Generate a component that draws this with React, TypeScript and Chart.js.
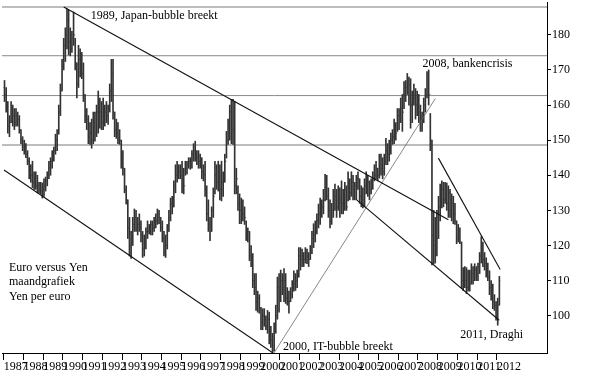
import React, { useEffect, useRef } from 'react';
import { Chart, registerables } from 'chart.js';

Chart.register(...registerables);

// ---- Data -------------------------------------------------------------
const START_YEAR = 1987;
const yearTicks = [1987, 1988, 1989, 1990, 1991, 1992, 1993, 1994, 1995, 1996, 1997, 1998, 1999, 2000, 2001, 2002, 2003, 2004, 2005, 2006, 2007, 2008, 2009, 2010, 2011, 2012];
const valueTicks = [100, 110, 120, 130, 140, 150, 160, 170, 180];

// monthly highs (Jan 1987 .. Feb 2012)
const highs = [
  167, 165, 161, 157, 161, 160, 159, 159, 158, 157, 153, 151,
  150, 149, 147, 145, 143, 144, 141, 141, 140, 138, 138, 137.8,
  139, 139.5, 141, 144, 145, 147, 148, 151.7, 153, 160, 166, 173,
  179, 182, 187.4, 187, 182, 181, 186.5, 179, 172, 177, 176, 175,
  172, 163, 159, 157, 155, 156, 158, 158, 160, 164, 162, 161,
  162, 160, 161, 160, 166, 173, 173, 158, 156, 155, 153, 150,
  147, 142, 137, 133, 128, 124, 128, 130.4, 130, 128, 129, 127,
  124, 123, 125, 127, 126, 127, 127, 128, 129, 130.4, 130, 128,
  127, 124, 123, 126, 130, 133.5, 134, 138.4, 143, 144, 143, 143,
  144, 142, 144, 144, 145, 145, 147, 149, 149.7, 147, 147, 146,
  145, 143, 144, 137, 133, 128, 131, 136.4, 144, 143, 144, 143,
  144, 141, 146, 152.5, 156, 160, 161.6, 161.6, 161, 142, 137, 134.7,
  133.5, 133, 131, 127, 125, 124, 120, 117.7, 112, 112, 107, 106,
  102.4, 102, 102, 100, 101.5, 101, 97, 95, 98, 103, 111, 112,
  113, 112, 113.4, 112, 108, 107, 108, 110, 112.8, 112, 113, 119.4,
  119.4, 119, 118, 119.4, 119, 118, 120, 124, 126.2, 127, 129, 131.8,
  133.5, 133, 136, 140.3, 140, 136.4, 133, 132, 136, 137.5, 136, 137,
  136.4, 138.4, 136, 138, 137, 141, 139, 141, 140, 138, 140, 141,
  139, 137, 136.4, 139, 141, 140, 138.4, 139, 141, 143, 144, 142,
  146, 146, 145, 146, 150.5, 149, 150, 152, 153, 156, 155, 159,
  159, 162, 163, 166.7, 167, 169, 168, 167.5, 164, 166, 164.7, 164,
  163, 160, 158, 162, 164.7, 169.5, 170, 157.6, 150, 130, 128, 130,
  134, 137.5, 138.4, 138, 138, 137.8, 137, 136, 134.7, 134, 132, 127,
  126, 125, 121, 113.7, 114, 113.7, 113, 113, 114.8, 114, 114.8, 114,
  115, 118, 122.5, 121, 118, 116.5, 115, 112.8, 110, 109, 106, 104,
  105, 111.2,
];

// monthly lows
const lows = [
  161, 158, 152, 151, 155, 154, 153, 154, 154, 152, 149, 147,
  146, 145, 143, 139, 138, 136.5, 136, 136, 135, 135, 134.7, 133.5,
  134, 135.5, 137, 139, 140, 142, 144, 146, 147, 151.7, 157, 164,
  170, 172.4, 176, 174.3, 174, 175, 177, 170, 162, 165, 168, 167.5,
  161, 155, 153, 149, 148.8, 147.7, 149, 149.7, 151, 152, 153.4, 153,
  153, 154, 155, 154.5, 158, 161, 156, 151, 150.5, 149, 148.8, 142,
  140, 135, 131.8, 122, 117, 116.3, 120, 124, 124, 123, 124, 121,
  116.6, 117, 119, 122, 123.3, 123, 123, 124, 125, 126, 126.2, 124,
  121, 117, 116.6, 119, 124, 127, 129, 131, 135, 138, 139, 139,
  135, 134.7, 140, 140.3, 142, 141.7, 142, 144, 144, 143, 142, 142,
  139, 138.4, 134, 127, 124, 121.4, 124, 128, 134.7, 136, 135.5, 133,
  132.7, 134, 138, 144.9, 148.8, 150, 149, 148.8, 134.7, 134.7, 130, 126.2,
  126.2, 127, 126, 121.4, 121, 115.7, 114, 108, 106, 101.5, 101, 100.7,
  96, 96, 97, 96, 95, 92, 91, 89.4, 90, 95, 99, 101,
  104, 106, 104, 103.5, 103, 100.7, 104, 105, 107, 107.2, 108, 111,
  113, 114, 114, 115, 114.8, 114, 116, 117.7, 119.4, 121, 123.3, 125,
  126, 128, 129, 132.7, 133, 128, 125, 126, 128, 130, 128, 130,
  128, 129, 129, 130, 130, 132.7, 133, 134, 133, 133, 133, 136,
  132, 131, 130.7, 131, 134.7, 134, 133, 134.7, 136, 138.4, 139, 138.4,
  139.2, 140, 139, 140, 143, 143, 144, 146, 148.8, 149, 150, 152.5,
  153, 155, 152.5, 159, 161, 163, 160, 153.4, 155, 160, 156, 157,
  155, 152.5, 152.5, 155, 158, 162, 160, 147, 114.5, 114.8, 115, 117,
  122, 127, 130.7, 131, 132, 130, 128, 128, 127, 126.2, 126, 120.5,
  121, 120.5, 108, 107.2, 108, 106.3, 107, 107, 109, 109, 110, 110,
  110, 112, 115, 114, 113, 111, 110, 106, 104.4, 102, 101.5, 98.7,
  97.3, 103,
];

// monthly closes
const closes = [
  163, 160, 154, 155, 159, 157, 155, 157, 156, 153, 150, 148,
  147, 146, 144, 141, 140, 138, 139, 137, 137, 136, 135.5, 136,
  137, 138.5, 140, 142, 144, 145, 147, 150, 152, 158, 164, 171,
  177, 180, 184, 178, 176, 179, 180, 172, 166, 173, 170, 169,
  163, 157, 156, 151, 152, 150, 155, 152, 158, 160, 158, 155,
  157, 158, 157, 159, 164, 169, 158, 153, 152, 150, 150, 144,
  142, 136, 133, 125, 120, 122, 126, 128, 125, 126, 125, 123,
  119, 121, 124, 124, 125, 126, 125, 127, 127, 129, 128, 125,
  122, 118, 120, 124, 128, 132, 131, 137, 140, 141, 141, 140,
  139, 137, 142, 143, 144, 143, 146, 147, 146, 145, 144, 143,
  141, 140, 136, 129, 126, 124, 130, 134, 140, 138, 140, 136,
  138, 139, 144, 150, 152, 158, 153, 158, 137, 139, 132, 130,
  131, 129, 128, 123, 124, 117, 116, 110, 108, 104, 105, 102,
  98, 100, 99, 97, 99, 94, 93, 90, 96, 100, 108, 105,
  110, 108, 110, 105, 104, 104, 106, 108, 109, 110, 111, 117,
  116, 117, 116, 118, 117, 116, 118, 122, 123, 124, 127, 129,
  130, 131, 133, 138, 134, 130, 127, 130, 133, 134, 131, 134,
  133, 132, 134, 136, 131, 137, 135, 138, 136, 137, 139, 139,
  134, 133, 132, 137, 136, 138, 136, 137, 139, 140, 142, 140,
  143, 142, 141, 144, 147, 146, 148, 150, 151, 154, 152, 157,
  157, 159, 158, 163, 165, 166, 162, 160, 163, 162, 160, 163,
  158, 156, 155, 160, 163, 168, 163, 150, 123, 120, 125, 122,
  131, 134, 136, 133, 137, 132, 135, 130, 132, 129, 127, 122,
  124, 121, 110, 112, 110, 108, 111, 109, 112, 110, 113, 112,
  114, 117, 119, 116, 115, 113, 111, 108, 107, 104, 103, 100,
  103, 110,
];
const FIRST_OPEN = 165;

// horizontal support / resistance levels
const levels = [187.9, 174.05, 162.7, 148.6];

// trend lines: [yearFrom, valueFrom, yearTo, valueTo]
const trendLines = [
  [1990.045, 187.93, 2009.54, 127.32],
  [1987.015, 141.48, 2000.65, 89.38],
  [2004.894, 132.99, 2012.116, 98.72],
  [2009.035, 144.88, 2012.167, 113.16],
];
const thinTrendLines = [
  [2000.70, 89.38, 2008.88, 161.87],
];

// annotations: text anchored at [year, value] (left / baseline)
const noteTexts = ['1989, Japan-bubble breekt', '2008, bankencrisis', 'Euro versus Yen', 'maandgrafiek', 'Yen per euro', '2000, IT-bubble breekt', '2011, Draghi'];
const noteYears = [1991.41, 2008.227, 1987.268, 1987.268, 1987.268, 2001.156, 2010.146];
const noteValues = [184.62, 170.94, 112.6, 108.64, 104.53, 90.23, 93.54];

// axis range
const X_MIN = 1986.914;
const X_MAX = 2014.54;
const Y_MIN = 89.38;
const Y_MAX = 189.35;

// ---- Styles -----------------------------------------------------------
const FONT = '"Liberation Serif", "Times New Roman", Times, serif';
const levelColors = ['#bdbdbd', '#8a8a8a', '#8a8a8a', '#bdbdbd'];
const levelWidths = [2, 1, 1, 2];
const BAR_COLOR = '#333333';
const TICK_COLOR = '#7a7a7a';

const monthX = (i: number) => START_YEAR + (i + 0.5) / 12;

const notesPlugin = {
  id: 'notes',
  afterDatasetsDraw(chart: any) {
    const { ctx, scales } = chart;
    const xs = scales.x;
    const ys = scales.y;
    ctx.save();
    ctx.font = `12px ${FONT}`;
    ctx.fillStyle = '#000';
    ctx.textAlign = 'left';
    ctx.textBaseline = 'alphabetic';
    noteTexts.forEach((t, k) => {
      ctx.fillText(t, xs.getPixelForValue(noteYears[k]), ys.getPixelForValue(noteValues[k]));
    });
    ctx.restore();
  },
};

export default function App() {
  const ref = useRef<HTMLCanvasElement | null>(null);

  useEffect(() => {
    if (!ref.current) return;
    const opens = closes.map((_, i) => (i === 0 ? FIRST_OPEN : closes[i - 1]));

    const datasets: any[] = [];
    trendLines.forEach((t) => {
      datasets.push({
        type: 'line',
        data: [{ x: t[0], y: t[1] }, { x: t[2], y: t[3] }],
        borderColor: '#111',
        borderWidth: 1.1,
        pointRadius: 0,
        fill: false,
        tension: 0,
      });
    });
    thinTrendLines.forEach((t) => {
      datasets.push({
        type: 'line',
        data: [{ x: t[0], y: t[1] }, { x: t[2], y: t[3] }],
        borderColor: '#6a6a6a',
        borderWidth: 0.8,
        pointRadius: 0,
        fill: false,
        tension: 0,
      });
    });
    datasets.push({
      type: 'bar',
      data: highs.map((h, i) => ({ x: monthX(i), y: [lows[i], h] })),
      backgroundColor: BAR_COLOR,
      borderWidth: 0,
      barThickness: 1,
    });
    datasets.push({
      type: 'scatter',
      data: closes.map((c, i) => ({ x: monthX(i), y: c })),
      pointStyle: 'dash',
      pointRadius: 1,
      pointHoverRadius: 1,
      pointBorderWidth: 1,
      borderColor: TICK_COLOR,
      backgroundColor: TICK_COLOR,
      pointRotation: 0,
    });
    datasets.push({
      type: 'scatter',
      data: opens.map((o, i) => ({ x: monthX(i), y: o })),
      pointStyle: 'dash',
      pointRadius: 1,
      pointHoverRadius: 1,
      pointBorderWidth: 1,
      borderColor: TICK_COLOR,
      backgroundColor: TICK_COLOR,
      pointRotation: 180,
    });
    levels.forEach((v, k) => {
      datasets.push({
        type: 'line',
        data: [{ x: X_MIN, y: v }, { x: X_MAX, y: v }],
        borderColor: levelColors[k],
        borderWidth: levelWidths[k],
        pointRadius: 0,
        fill: false,
        tension: 0,
      });
    });

    const chart = new Chart(ref.current, {
      type: 'bar',
      data: { datasets },
      options: {
        animation: false,
        responsive: false,
        events: [],
        layout: { padding: 0 },
        plugins: {
          legend: { display: false },
          tooltip: { enabled: false },
          title: { display: false },
        },
        scales: {
          x: {
            type: 'linear',
            position: 'bottom',
            min: X_MIN,
            max: X_MAX,
            offset: false,
            grid: {
              offset: false,
              drawOnChartArea: false,
              drawTicks: true,
              tickLength: 7,
              color: '#000',
              tickColor: '#000',
              lineWidth: 1,
            },
            border: { display: true, color: '#000', width: 1 },
            ticks: {
              autoSkip: false,
              maxRotation: 0,
              minRotation: 0,
              align: 'start',
              padding: 0,
              color: '#000',
              font: { family: FONT, size: 12 },
              callback: (v: any) => String(v),
            },
            afterBuildTicks: (s: any) => {
              s.ticks = yearTicks.map((v) => ({ value: v }));
            },
            afterFit: (s: any) => {
              s.height = 19;
              s.paddingLeft = 0;
              s.paddingRight = 0;
            },
          },
          y: {
            type: 'linear',
            position: 'right',
            min: Y_MIN,
            max: Y_MAX,
            beginAtZero: false,
            grid: {
              drawOnChartArea: false,
              drawTicks: true,
              tickLength: 4,
              color: '#000',
              tickColor: '#000',
              lineWidth: 1,
            },
            border: { display: true, color: '#000', width: 1 },
            ticks: {
              padding: 1,
              color: '#000',
              font: { family: FONT, size: 12 },
              callback: (v: any) => String(v),
            },
            afterBuildTicks: (s: any) => {
              s.ticks = valueTicks.map((v) => ({ value: v }));
            },
            afterFit: (s: any) => {
              s.width = 48;
              s.paddingTop = 0;
              s.paddingBottom = 0;
            },
          },
        },
      } as any,
      plugins: [notesPlugin as any],
    });

    return () => chart.destroy();
  }, []);

  return (
    <div style={{ position: 'fixed', left: 0, top: 0, width: 595, height: 372, background: '#fff' }}>
      <canvas ref={ref} width={595} height={372} style={{ display: 'block' }} />
    </div>
  );
}
